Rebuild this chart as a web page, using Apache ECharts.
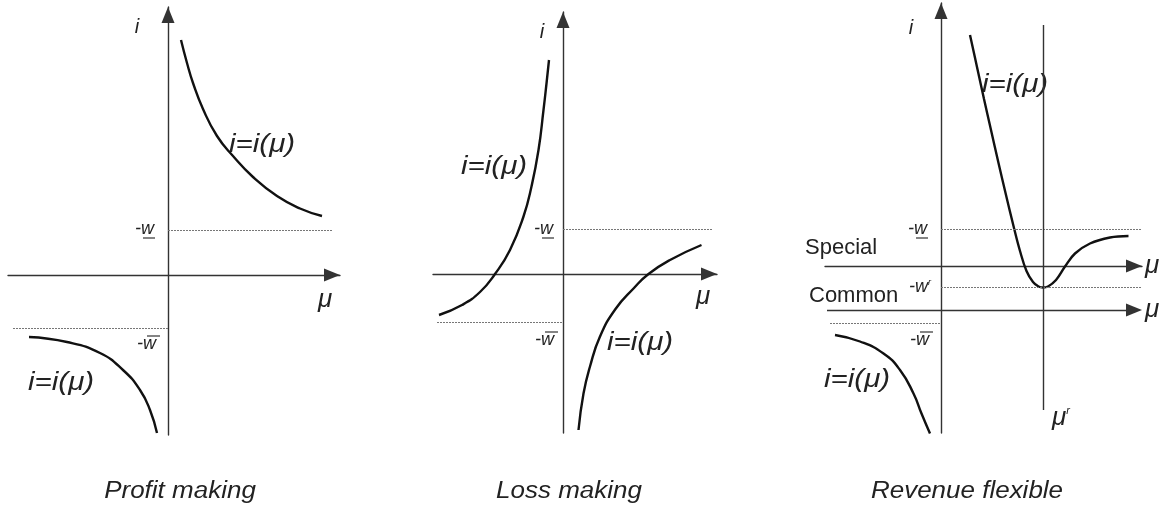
<!DOCTYPE html>
<html><head><meta charset="utf-8">
<script src="https://cdn.jsdelivr.net/npm/echarts@6/dist/echarts.min.js"></script>
<style>html,body{margin:0;padding:0;background:#fff}#c{width:1169px;height:510px}</style>
</head><body><div id="c"></div>
<script>
// ---- data (units: diagram units, origin at the axis crossing) ----
const panelTitles = ['Profit making', 'Loss making', 'Revenue flexible'];
const profitUpper = [[0.26,4.70],[0.38,4.24],[0.50,3.84],[0.70,3.32],[0.98,2.78],[1.30,2.38],[1.70,1.96],[2.18,1.58],[2.64,1.33],[3.08,1.18]];
const profitLower = [[-2.78,-1.24],[-2.02,-1.34],[-1.36,-1.56],[-0.90,-1.90],[-0.56,-2.30],[-0.36,-2.70],[-0.22,-3.16]];
const lossLeft = [[-2.48,-0.82],[-2.02,-0.62],[-1.66,-0.36],[-1.36,0],[-1.06,0.48],[-0.79,1.15],[-0.63,1.75],[-0.49,2.48],[-0.39,3.28],[-0.33,3.81],[-0.28,4.28]];
const lossRight = [[0.31,-3.12],[0.41,-2.39],[0.54,-1.85],[0.74,-1.25],[1.05,-0.70],[1.42,-0.28],[1.71,0],[2.14,0.28],[2.77,0.58]];
const flexUpper = [[0.58,4.62],[0.72,3.98],[0.86,3.34],[1.00,2.72],[1.15,2.06],[1.30,1.42],[1.45,0.80],[1.58,0.30],[1.71,-0.10],[1.84,-0.32],[1.95,-0.41],[2.04,-0.43],[2.14,-0.41],[2.30,-0.28],[2.48,-0.01],[2.68,0.25],[2.98,0.45],[3.38,0.57],[3.75,0.60]];
const flexLower = [[-2.12,-1.38],[-1.62,-1.51],[-1.15,-1.75],[-0.82,-2.08],[-0.55,-2.55],[-0.39,-2.95],[-0.22,-3.35]];
const levelW = [0.9, 0.9, 0.74];         // -w (underlined) per panel
const levelWbar = [-1.06, -0.96, -1.14]; // -w (overlined) per panel
const levelWr = -0.43;                   // -w^r in panel 3
const muR = 2.04;                        // mu^r in panel 3
const commonAxisLevel = -0.88;           // "Common" axis in panel 3

// ---- layout ----
const S = 50; // px per unit
const panels = [
  {ox:168, oy:275, xl:8,   xr:340,  yt:7,  yb:435, wR:3.3, wbL:-3.1},
  {ox:563, oy:274, xl:433, xr:717,  yt:12, yb:433, wR:3.0, wbL:-2.52},
  {ox:941, oy:266, xl:825, xr:1142, yt:3,  yb:433, wR:4.02, wbL:-2.22}
];
const INK = '#111', AX = '#333', DOT = '#777';
const AH = 16; // arrow head length
const arrow = {symbol:['none','triangle'], symbolSize:[13,AH], symbolOffset:[0,-AH/2]};

const grids = [], xAxes = [], yAxes = [], series = [];
panels.forEach((p, k) => {
  grids.push({left:p.xl, top:p.yt, width:p.xr-p.xl, height:p.yb-p.yt});
  const common = {type:'value', gridIndex:k, splitLine:{show:false}, axisTick:{show:false}, axisLabel:{show:false}};
  xAxes.push(Object.assign({}, common, {min:(p.xl-p.ox)/S, max:(p.xr-p.ox)/S,
    axisLine:Object.assign({show:true, onZero:true, lineStyle:{color:AX, width:1.4}}, arrow)}));
  yAxes.push(Object.assign({}, common, {min:(p.oy-p.yb)/S, max:(p.oy-p.yt)/S,
    axisLine:Object.assign({show:true, onZero:true, lineStyle:{color:AX, width:1.4}}, arrow)}));
});

function curve(k, data, extra) {
  return Object.assign({type:'line', xAxisIndex:k, yAxisIndex:k, data:data, smooth:0.5, showSymbol:false,
    silent:true, animation:false, lineStyle:{color:INK, width:2.4}}, extra || {});
}
function dotted(k) {
  const p = panels[k];
  const d = [
    [{coord:[0, levelW[k]]}, {coord:[p.wR, levelW[k]]}],
    [{coord:[p.wbL, levelWbar[k]]}, {coord:[0, levelWbar[k]]}]
  ];
  if (k === 2) d.push([{coord:[0, levelWr]}, {coord:[p.wR, levelWr]}]);
  return {silent:true, animation:false, symbol:['none','none'], label:{show:false},
    lineStyle:{color:DOT, width:1.2, type:[2,1]}, data:d};
}
series.push(curve(0, profitUpper, {markLine:dotted(0)}));
series.push(curve(0, profitLower));
series.push(curve(1, lossLeft, {markLine:dotted(1)}));
series.push(curve(1, lossRight));
series.push(curve(2, flexUpper, {smooth:0.4, markLine:dotted(2)}));
series.push(curve(2, flexLower, {markLine:{silent:true, animation:false, label:{show:false},
  symbol:['none','triangle'], symbolSize:[13,AH],
  data:[
    [{coord:[(panels[2].xl+2-panels[2].ox)/S, commonAxisLevel], lineStyle:{color:AX, width:1.4, type:'solid'}},
     {coord:[(panels[2].xr-AH/2-panels[2].ox)/S, commonAxisLevel]}],
    [{coord:[muR, (panels[2].oy-25)/S], symbol:'none', lineStyle:{color:AX, width:1.4, type:'solid'}},
     {coord:[muR, (panels[2].oy-410)/S], symbol:'none'}]
  ]}}));

// ---- text ----
const FF = '"Liberation Sans", Arial, sans-serif';
function T(x, y, s, size, italic, align, sx) {
  return {type:'text', x:x, y:y, scaleX:sx||1, silent:true, style:{text:s, fill:'#222',
    font:(italic?'italic ':'') + size + 'px ' + FF, align:align||'left', verticalAlign:'middle'}};
}
function L(x1, y1, x2, y2) {
  return {type:'line', silent:true, shape:{x1:x1,y1:y1,x2:x2,y2:y2}, style:{stroke:'#333', lineWidth:1.2}};
}
function wUnder(x, y) { return [T(x, y, '-w', 18, true), L(x+8, y+9, x+20, y+9)]; }
function wOver(x, y) { return [T(x, y, '-w', 18, true), L(x+10, y-8, x+23, y-8)]; }
const eq = 'i=i(\u03bc)';
const EQS = 25, EQX = 1.18;
let gfx = [
  T(137, 27, 'i', 20, true, 'center'), T(325, 300, '\u03bc', 26, true, 'center'),
  T(229, 145, eq, EQS, true, 'left', EQX), T(28, 383, eq, EQS, true, 'left', EQX),
  T(542, 32, 'i', 20, true, 'center'), T(703, 297, '\u03bc', 26, true, 'center'),
  T(461, 167, eq, EQS, true, 'left', EQX), T(607, 343, eq, EQS, true, 'left', EQX),
  T(911, 28, 'i', 20, true, 'center'),
  T(982, 85, eq, EQS, true, 'left', EQX), T(824, 380, eq, EQS, true, 'left', EQX),
  T(805, 248, 'Special', 22, false), T(809, 296, 'Common', 22, false),
  T(1145, 266, '\u03bc', 26, true), T(1145, 310, '\u03bc', 26, true),
  {type:'text', x:1052, y:418, silent:true, style:{text:'{a|\u03bc}{b|r}', verticalAlign:'middle', fill:'#222',
    rich:{a:{font:'italic 26px '+FF, fill:'#222'}, b:{font:'italic 11px '+FF, fill:'#222', verticalAlign:'top', padding:[0,0,14,0]}}}},
  {type:'text', x:909, y:287, silent:true, style:{text:'{a|-w}{b|r}', verticalAlign:'middle', fill:'#222',
    rich:{a:{font:'italic 18px '+FF, fill:'#222'}, b:{font:'italic 9px '+FF, fill:'#222', verticalAlign:'top', padding:[0,0,9,0]}}}},
  T(180, 492, panelTitles[0], 23, true, 'center', 1.13),
  T(569, 492, panelTitles[1], 23, true, 'center', 1.13),
  T(967, 492, panelTitles[2], 23, true, 'center', 1.13)
];
gfx = gfx.concat(wUnder(135, 229), wOver(137, 344), wUnder(534, 229), wOver(535, 340), wUnder(908, 229), wOver(910, 340));

const chart = echarts.init(document.getElementById('c'), null, {renderer:'canvas'});
chart.setOption({animation:false, backgroundColor:'#fff', grid:grids, xAxis:xAxes, yAxis:yAxes, series:series, graphic:gfx});
</script></body></html>
